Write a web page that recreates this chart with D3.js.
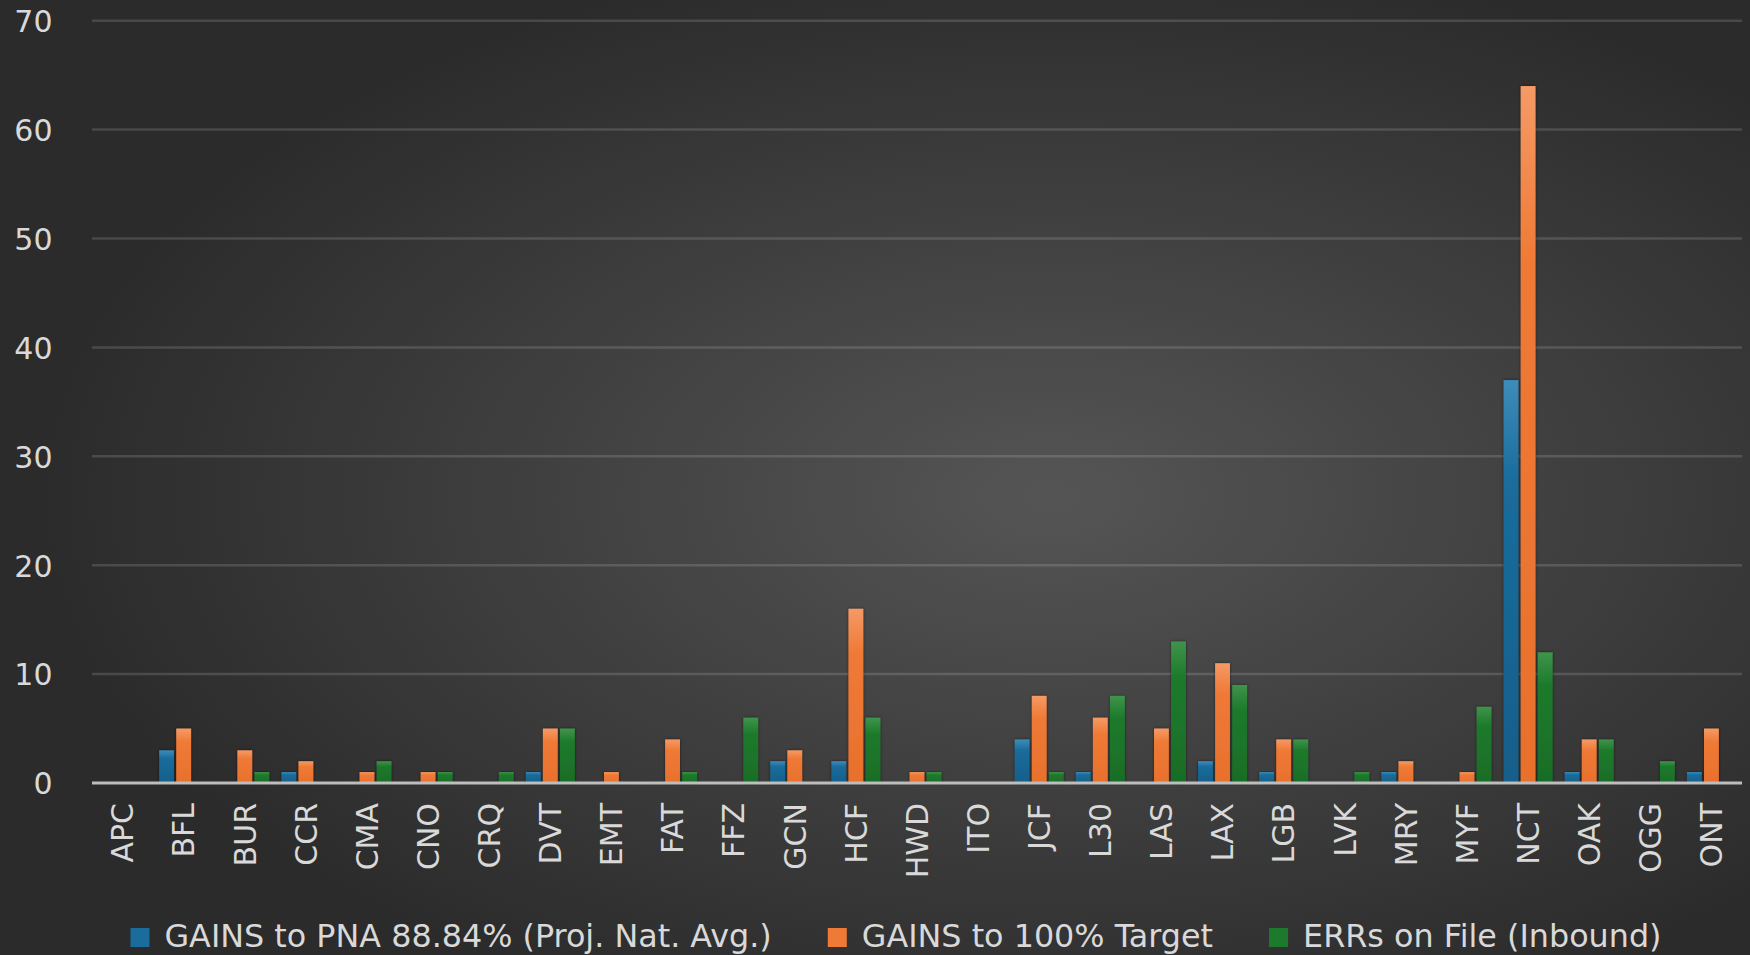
<!DOCTYPE html>
<html>
<head>
<meta charset="utf-8">
<script src="https://cdn.jsdelivr.net/npm/d3@7"></script>
<style>
  html, body { margin: 0; padding: 0; background: #2b2b2b; }
  svg { display: block; }
  text { font-family: "DejaVu Sans", sans-serif; fill: #d9d9d9; }
</style>
</head>
<body>
<svg id="chart" width="1750" height="955"></svg>
<script>
// Station codes along the x axis
const categories = ["APC","BFL","BUR","CCR","CMA","CNO","CRQ","DVT","EMT","FAT","FFZ","GCN","HCF","HWD","ITO","JCF","L30","LAS","LAX","LGB","LVK","MRY","MYF","NCT","OAK","OGG","ONT"];

// Series values, one per station
const pnaGains    = [0,3,0,1,0,0,0,1,0,0,0,2,2,0,0,4,1,0,2,1,0,1,0,37,1,0,1];
const targetGains = [0,5,3,2,1,1,0,5,1,4,0,3,16,1,0,8,6,5,11,4,0,2,1,64,4,0,5];
const errsOnFile  = [0,0,1,0,2,1,1,5,0,1,6,0,6,1,0,1,8,13,9,4,1,0,7,12,4,2,0];

const seriesNames = ["GAINS to PNA 88.84% (Proj. Nat. Avg.)", "GAINS to 100% Target", "ERRs on File (Inbound)"];
const yTicks = [0,10,20,30,40,50,60,70];

const seriesValues = [pnaGains, targetGains, errsOnFile];
const seriesStyle = [
  { base: "#1a6c9c", top: "#3d8cba", bottom: "#165f8a" },
  { base: "#ef7a36", top: "#f59a66", bottom: "#e8702c" },
  { base: "#1d7a2c", top: "#3f944b", bottom: "#196d27" }
];

const W = 1750, H = 955;
const plot = { left: 92, right: 1742, top: 20.7, bottom: 783 };

const svg = d3.select("#chart");
const defs = svg.append("defs");

// Dark radial background
const bg = defs.append("radialGradient").attr("id", "bgGrad")
  .attr("cx", 0.6).attr("cy", 0.52).attr("r", 0.58);
bg.append("stop").attr("offset", "0%").attr("stop-color", "#555555");
bg.append("stop").attr("offset", "100%").attr("stop-color", "#2b2b2b");

seriesStyle.forEach((s, i) => {
  const g = defs.append("linearGradient").attr("id", "barGrad" + i)
    .attr("x1", 0).attr("y1", 0).attr("x2", 0).attr("y2", 1);
  g.append("stop").attr("offset", "0%").attr("stop-color", s.top);
  g.append("stop").attr("offset", "25%").attr("stop-color", s.base);
  g.append("stop").attr("offset", "100%").attr("stop-color", s.bottom);
});

const shadow = defs.append("filter").attr("id", "barShadow")
  .attr("x", "-50%").attr("y", "-10%").attr("width", "200%").attr("height", "120%");
shadow.append("feDropShadow").attr("dx", 0).attr("dy", 0)
  .attr("stdDeviation", 1.6).attr("flood-color", "#000").attr("flood-opacity", 0.55);

svg.append("rect").attr("width", W).attr("height", H).attr("fill", "url(#bgGrad)");

// Scales
const x0 = d3.scaleBand().domain(categories).range([plot.left, plot.right]).padding(0);
const groupWidth = 49;
const x1 = d3.scaleBand().domain(d3.range(seriesNames.length))
  .range([(x0.bandwidth() - groupWidth) / 2, (x0.bandwidth() + groupWidth) / 2])
  .paddingInner(0.13);
const y = d3.scaleLinear().domain([0, 70]).range([plot.bottom, plot.top]);

// Gridlines
svg.append("g")
  .selectAll("line")
  .data(yTicks.filter(d => d > 0))
  .join("line")
  .attr("x1", plot.left).attr("x2", plot.right)
  .attr("y1", d => y(d)).attr("y2", d => y(d))
  .attr("stroke", "rgba(255,255,255,0.14)")
  .attr("stroke-width", 2.5);

// Y axis labels
const yAxis = d3.axisLeft(y).tickValues(yTicks).tickSize(0).tickPadding(0);
const yG = svg.append("g").attr("transform", "translate(52.5,0)").call(yAxis);
yG.select(".domain").remove();
yG.selectAll("text").attr("font-size", 30).attr("fill", "#d9d9d9")
  .attr("font-family", "DejaVu Sans, sans-serif").attr("dy", "0.36em");

// Bars
const groups = svg.append("g")
  .selectAll("g")
  .data(categories.map((c, i) => ({ cat: c, vals: seriesValues.map(s => s[i]) })))
  .join("g")
  .attr("transform", d => `translate(${x0(d.cat)},0)`);

groups.selectAll("rect")
  .data(d => d.vals.map((v, k) => ({ k, v })).filter(e => e.v > 0))
  .join("rect")
  .attr("x", e => x1(e.k))
  .attr("width", x1.bandwidth())
  .attr("y", e => y(e.v))
  .attr("height", e => y(0) - y(e.v))
  .attr("fill", e => `url(#barGrad${e.k})`)
  .attr("filter", "url(#barShadow)");

// X axis line and category labels
svg.append("line")
  .attr("x1", plot.left).attr("x2", plot.right)
  .attr("y1", y(0)).attr("y2", y(0))
  .attr("stroke", "#bdbdbd").attr("stroke-width", 3);

svg.append("g")
  .selectAll("text")
  .data(categories)
  .join("text")
  .attr("transform", d => `translate(${x0(d) + x0.bandwidth() / 2},803) rotate(-90)`)
  .attr("text-anchor", "end")
  .attr("dy", "0.36em")
  .attr("font-size", 30)
  .text(d => d);

// Legend
const legend = svg.append("g");
const items = legend.selectAll("g").data(seriesNames).join("g");
items.append("rect")
  .attr("width", 19).attr("height", 19).attr("y", 928)
  .attr("fill", (d, i) => seriesStyle[i].base);
items.append("text")
  .attr("y", 947).attr("font-size", 31.8)
  .text(d => d);

let cursor = 0;
const offsets = [];
items.each(function () {
  const tw = d3.select(this).select("text").node().getComputedTextLength();
  offsets.push(cursor);
  cursor += 19 + 15 + tw + 56;
});
const totalWidth = cursor - 56;
const startX = 896 - totalWidth / 2;
items.each(function (d, i) {
  const g = d3.select(this);
  g.select("rect").attr("x", startX + offsets[i]);
  g.select("text").attr("x", startX + offsets[i] + 34);
});
</script>
</body>
</html>
